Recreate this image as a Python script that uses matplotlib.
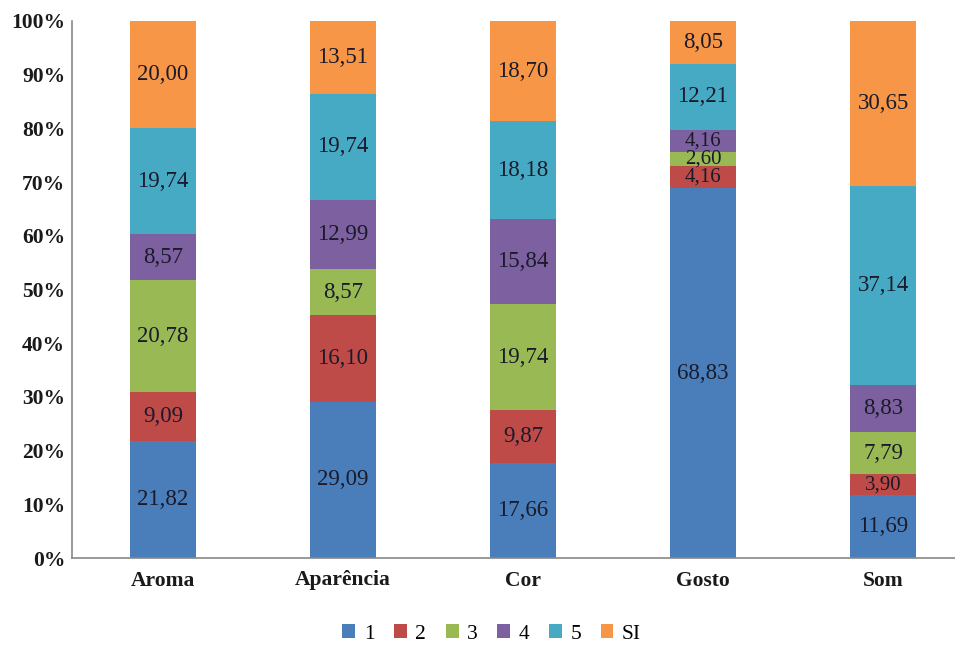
import matplotlib.pyplot as plt
import numpy as np

plt.rcParams['font.family'] = ['Liberation Serif', 'DejaVu Serif']

categorias = ['Aroma', 'Aparência', 'Cor', 'Gosto', 'Som']
series = ['1', '2', '3', '4', '5', 'SI']
valores = {
    '1':  [21.82, 29.09, 17.66, 68.83, 11.69],
    '2':  [9.09, 16.10, 9.87, 4.16, 3.90],
    '3':  [20.78, 8.57, 19.74, 2.60, 7.79],
    '4':  [8.57, 12.99, 15.84, 4.16, 8.83],
    '5':  [19.74, 19.74, 18.18, 12.21, 37.14],
    'SI': [20.00, 13.51, 18.70, 8.05, 30.65],
}
cores = ['#4a7ebb', '#be4b48', '#98b954', '#7d60a0', '#46aac5', '#f79646']

fig = plt.figure(figsize=(9.55, 6.46), dpi=100)
ax = fig.add_axes([72/955, 1 - 558/646, 1 - 72/955, (558 - 21)/646])

x = np.arange(len(categorias))
base = np.zeros(len(categorias))
for s, c in zip(series, cores):
    v = np.array(valores[s])
    ax.bar(x, v, 0.372, bottom=base, color=c, label=s, zorder=2)
    for xi, b, vi in zip(x, base, v):
        # segmentos pequenos (Gosto) ficam com texto menor
        fs = 16.5 if vi >= 5 else 15
        ax.text(xi, b + vi / 2, f'{vi:.2f}'.replace('.', ','), ha='center', va='center',
                fontsize=fs, color='#1a1a2a', zorder=3)
    base += v

ax.set_xlim(-0.5056, 4.4)
ax.set_ylim(0, 100)
ax.set_yticks(np.arange(0, 101, 10))
ax.set_yticklabels([f'{t}%' for t in range(0, 101, 10)])
ax.set_xticks(x)
ax.set_xticklabels(categorias)
ax.tick_params(axis='both', length=0, labelsize=15.5)
ax.tick_params(axis='y', pad=5)
ax.tick_params(axis='x', pad=9)
for lab in ax.get_xticklabels() + ax.get_yticklabels():
    lab.set_fontweight('bold')
    lab.set_color('#1a1a1a')
for side in ['top', 'right']:
    ax.spines[side].set_visible(False)
for side in ['left', 'bottom']:
    ax.spines[side].set_color('#888888')
    ax.spines[side].set_linewidth(1.2)

fig.legend(loc='center', bbox_to_anchor=(0.515, 1 - 634/646), ncol=6, frameon=False,
           fontsize=15.5, handlelength=0.6, handleheight=0.6, handletextpad=0.4,
           columnspacing=0.9)

fig.savefig('out.png', dpi=100)
